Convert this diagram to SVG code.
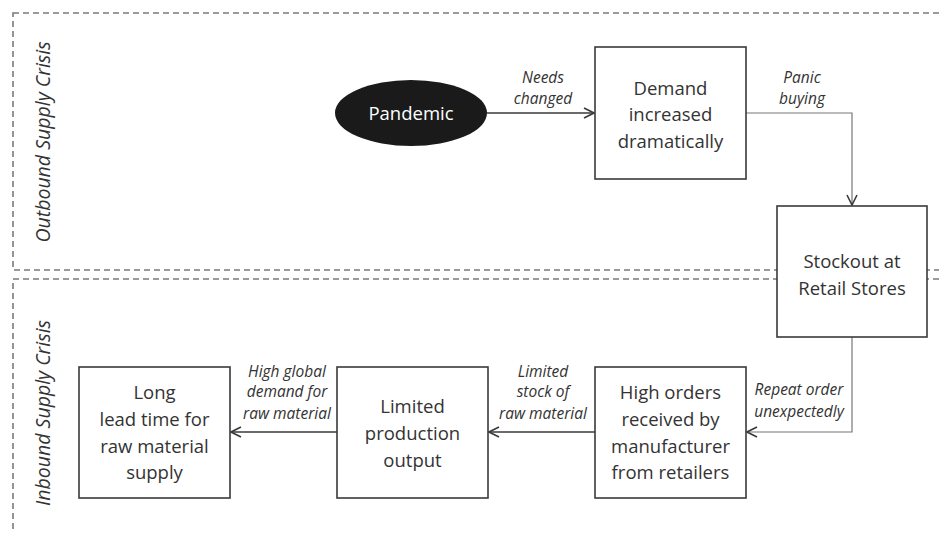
<svg xmlns="http://www.w3.org/2000/svg" width="939" height="533" viewBox="0 0 939 533">
<style>
.zone{fill:none;stroke:#7a7a7a;stroke-width:1.6;stroke-dasharray:6 4}
.box{fill:#fff;stroke:#3a3a3a;stroke-width:1.6}
.t{font-family:"Open Sans","Liberation Sans",sans-serif;font-size:18.5px;fill:#333;text-anchor:middle}
.l{font-family:"Open Sans","Liberation Sans",sans-serif;font-size:15.5px;font-style:italic;fill:#333;text-anchor:middle}
.z{font-family:"Open Sans","Liberation Sans",sans-serif;font-size:19.5px;font-style:italic;fill:#333;text-anchor:middle}
.c{fill:none;stroke:#3a3a3a;stroke-width:1.6}
.c2{fill:none;stroke:#777;stroke-width:1.2}
</style>
<defs>
<marker id="ah" viewBox="0 0 12 12" refX="11" refY="6" markerWidth="12" markerHeight="12" markerUnits="userSpaceOnUse" orient="auto">
<path d="M1,1 L11,6 L1,11" fill="none" stroke="#3a3a3a" stroke-width="1.6"/>
</marker>
</defs>
<g id="zones">
<rect class="zone" x="13" y="13" width="940" height="257"/>
<rect class="zone" x="13" y="279" width="940" height="270"/>
<text class="z" transform="translate(50,142) rotate(-90)">Outbound Supply Crisis</text>
<text class="z" transform="translate(50,413) rotate(-90)">Inbound Supply Crisis</text>
</g>
<g id="connectors">
<line class="c" x1="487" y1="113" x2="594" y2="113" marker-end="url(#ah)"/>
<polyline class="c2" points="746,113 852,113 852,205" marker-end="url(#ah)"/>
<polyline class="c2" points="852,337 852,432 747,432" marker-end="url(#ah)"/>
<line class="c" x1="595" y1="432" x2="489" y2="432" marker-end="url(#ah)"/>
<line class="c" x1="337" y1="432" x2="231" y2="432" marker-end="url(#ah)"/>
<text class="l" x="543" y="83">Needs</text>
<text class="l" x="543" y="104">changed</text>
<text class="l" x="802" y="83">Panic</text>
<text class="l" x="802" y="104">buying</text>
<text class="l" x="799" y="395">Repeat order</text>
<text class="l" x="799" y="417">unexpectedly</text>
<text class="l" x="543" y="377">Limited</text>
<text class="l" x="543" y="397">stock of</text>
<text class="l" x="543" y="419">raw material</text>
<text class="l" x="287" y="377">High global</text>
<text class="l" x="287" y="397">demand for</text>
<text class="l" x="287" y="419">raw material</text>
</g>
<g id="pandemic">
<ellipse cx="411" cy="113" rx="76" ry="33" fill="#1a1a1a"/>
<text class="t" x="411" y="120" style="fill:#fff">Pandemic</text>
</g>
<g id="demand">
<rect class="box" x="595" y="47" width="151" height="132"/>
<text class="t" x="670.5" y="95">Demand</text>
<text class="t" x="670.5" y="121">increased</text>
<text class="t" x="670.5" y="148">dramatically</text>
</g>
<g id="stockout">
<rect class="box" x="777" y="206" width="150" height="131"/>
<text class="t" x="852" y="268">Stockout at</text>
<text class="t" x="852" y="295">Retail Stores</text>
</g>
<g id="highorders">
<rect class="box" x="595" y="367" width="151" height="131"/>
<text class="t" x="670.5" y="399">High orders</text>
<text class="t" x="670.5" y="426">received by</text>
<text class="t" x="670.5" y="453">manufacturer</text>
<text class="t" x="670.5" y="479">from retailers</text>
</g>
<g id="limited">
<rect class="box" x="337" y="367" width="151" height="131"/>
<text class="t" x="412.5" y="413">Limited</text>
<text class="t" x="412.5" y="440">production</text>
<text class="t" x="412.5" y="467">output</text>
</g>
<g id="longlead">
<rect class="box" x="79" y="367" width="151" height="131"/>
<text class="t" x="154.5" y="399">Long</text>
<text class="t" x="154.5" y="426">lead time for</text>
<text class="t" x="154.5" y="453">raw material</text>
<text class="t" x="154.5" y="479">supply</text>
</g>
</svg>
